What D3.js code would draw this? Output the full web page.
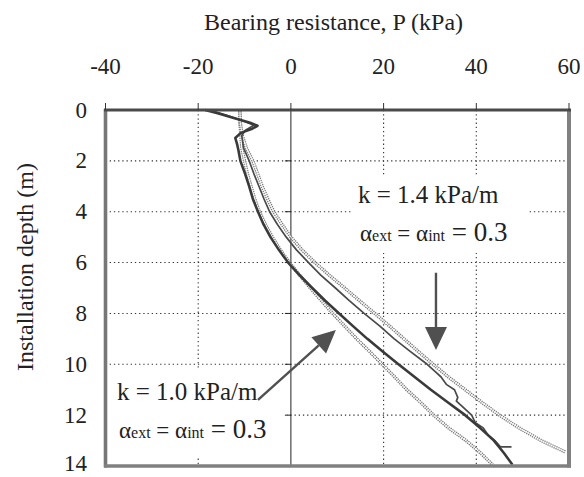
<!DOCTYPE html>
<html><head><meta charset="utf-8">
<script src="https://cdn.jsdelivr.net/npm/d3@7"></script>
<style>body{margin:0;background:#fff}svg{display:block}</style>
</head><body><svg id="c" width="584" height="477" style="font-family:'Liberation Serif'"></svg>
<script>
// ---- data ----
const xTicks = [-40, -20, 0, 20, 40, 60];
const yTicks = [0, 2, 4, 6, 8, 10, 12, 14];
const xTitle = "Bearing resistance, P (kPa)";
const yTitle = "Installation depth (m)";

// measured curve 1 (dark, solid)
const measADepth = [0.0,0.12,0.3,0.5,0.62,0.75,0.9,1.1,1.35,1.6,2.0,2.5,3.0,3.5,4.0,4.5,5.0,5.5,6.0,6.5,7.0,7.5,8.0,8.5,9.0,9.5,10.0,10.5,11.0,11.5,12.0,12.5,13.0,13.5,13.95];
const measAP     = [-18.5,-16,-12.5,-8.8,-7.2,-8.5,-10.8,-12,-11.6,-11.3,-10.9,-9.9,-9.0,-8.2,-7.1,-5.9,-4.4,-2.6,-0.6,1.9,4.6,7.4,10.4,13.4,16.5,19.8,23.2,26.7,30.2,33.9,37.6,40.8,43.8,46.0,47.8];
// measured curve 2 (dark, jagged)
const measBDepth = [0.0,0.2,0.45,0.6,0.8,1.0,1.5,2.0,2.5,3.0,3.5,4.0,4.5,5.0,5.5,6.0,6.5,7.0,7.5,8.0,8.5,9.0,9.5,10.0,10.3,10.5,10.8,11.0,11.3,11.45,11.6,12.0,12.3,12.5,12.8,13.0,13.25,13.25];
const measBP     = [-17.5,-14,-10,-8,-9.8,-10.6,-10.2,-9.0,-8.0,-6.9,-5.8,-4.6,-2.9,-1.0,1.2,3.8,6.5,9.6,12.6,15.8,19.2,22.3,25.8,29.4,31.2,32.4,33.6,35.3,36.0,35.7,36.6,39.0,39.8,41.5,42.6,44.0,45.2,47.6];
// predicted, k = 1.0 kPa/m
const predK10Depth = [0.05,0.5,1.0,1.5,2.0,2.5,3.0,3.5,4.0,4.5,5.0,5.5,6.0,6.5,7.0,7.5,8.0,8.5,9.0,9.5,10.0,10.5,11.0,11.5,12.0,12.5,13.0,13.5,13.95];
const predK10P     = [-11,-11,-10.8,-10.6,-10.0,-9.4,-8.6,-7.8,-6.8,-5.5,-4.0,-2.3,-0.3,1.9,4.2,6.6,9.0,11.6,14.2,17.0,19.7,22.4,25.0,28.0,30.8,34.0,37.8,41.0,43.5];
// predicted, k = 1.4 kPa/m
const predK14Depth = [0.05,0.5,1.0,1.5,2.0,2.5,3.0,3.5,4.0,4.5,5.0,5.5,6.0,6.5,7.0,7.5,8.0,8.5,9.0,9.5,10.0,10.5,11.0,11.5,12.0,12.5,13.0,13.45];
const predK14P     = [-11,-10.9,-10.5,-9.6,-8.2,-7.2,-6.2,-5.0,-3.7,-1.9,0.0,2.4,5.2,8.3,11.6,14.8,18.1,21.3,24.4,27.5,30.7,34.0,37.6,41.2,45.0,49.2,54.0,59.2];

const labelK14 = "k = 1.4 kPa/m";
const labelK10 = "k = 1.0 kPa/m";

// ---- drawing ----
const FF = '"Liberation Serif"';
const svg = d3.select("#c");
const x = d3.scaleLinear().domain([-40, 60]).range([105.5, 569]);
const y = d3.scaleLinear().domain([0, 14]).range([110, 466]);

// width measurement via canvas (keeps SVG text plain, start-anchored)
const ctx = document.createElement("canvas").getContext("2d");
function tw(str, size) { ctx.font = size + 'px "Liberation Serif"'; return ctx.measureText(String(str)).width; }

const g = svg.append("g");
// grid
g.selectAll(".vg").data([-20, 20, 40]).join("line")
  .attr("x1", d => x(d)).attr("x2", d => x(d)).attr("y1", y(0)).attr("y2", y(14))
  .attr("stroke", "#333").attr("stroke-width", 1.1).attr("stroke-dasharray", "1.3,2.9");
g.selectAll(".hg").data([2, 4, 6, 8, 10, 12]).join("line")
  .attr("x1", x(-40)).attr("x2", x(60)).attr("y1", d => y(d)).attr("y2", d => y(d))
  .attr("stroke", "#333").attr("stroke-width", 1.1).attr("stroke-dasharray", "1.3,2.9");

// white label boxes
g.append("rect").attr("x", 352).attr("y", 177).attr("width", 176).attr("height", 76).attr("fill", "#fff");
g.append("rect").attr("x", 109).attr("y", 370).attr("width", 178).attr("height", 86).attr("fill", "#fff");

// zero axis
g.append("line").attr("x1", x(0)).attr("x2", x(0)).attr("y1", y(0)).attr("y2", y(14))
  .attr("stroke", "#222").attr("stroke-width", 1);
g.selectAll(".zt").data([2,4,6,8,10,12]).join("line")
  .attr("x1", x(0) - 6).attr("x2", x(0)).attr("y1", d => y(d)).attr("y2", d => y(d))
  .attr("stroke", "#222").attr("stroke-width", 1);

const line = d3.line().x(d => x(d[0])).y(d => y(d[1])).curve(d3.curveLinear);
function pts(P, D) { return P.map((p, i) => [p, D[i]]); }

// predicted curves: light double-dotted
[[predK10P, predK10Depth], [predK14P, predK14Depth]].forEach(([P, D]) => {
  g.append("path").attr("d", line(pts(P, D))).attr("fill", "none")
    .attr("stroke", "#7a7a7a").attr("stroke-width", 3.4).attr("stroke-dasharray", "1.3,0.9");
  g.append("path").attr("d", line(pts(P, D))).attr("fill", "none")
    .attr("stroke", "#fff").attr("stroke-width", 1.0);
});
// measured curves
g.append("path").attr("d", line(pts(measBP, measBDepth))).attr("fill", "none")
  .attr("stroke", "#4a4a4a").attr("stroke-width", 1.7).attr("stroke-linejoin", "round");
g.append("path").attr("d", line(pts(measAP, measADepth))).attr("fill", "none")
  .attr("stroke", "#3a3a3a").attr("stroke-width", 2.6).attr("stroke-linejoin", "round");

// frame
g.append("line").attr("x1", x(-40)).attr("x2", x(-40)).attr("y1", y(0) - 1).attr("y2", y(14) + 1.5)
  .attr("stroke", "#777").attr("stroke-width", 3.6);
g.append("line").attr("x1", x(60)).attr("x2", x(60)).attr("y1", y(0) - 1).attr("y2", y(14) + 1.5)
  .attr("stroke", "#808080").attr("stroke-width", 4);
g.append("line").attr("x1", x(-40) - 1.5).attr("x2", x(60) + 2).attr("y1", y(14)).attr("y2", y(14))
  .attr("stroke", "#808080").attr("stroke-width", 3.6);
g.append("line").attr("x1", x(-40) - 1.5).attr("x2", x(60) + 2).attr("y1", y(0)).attr("y2", y(0))
  .attr("stroke", "#4a4a4a").attr("stroke-width", 3);
// top ticks
g.selectAll(".tt").data(xTicks).join("line")
  .attr("x1", d => x(d)).attr("x2", d => x(d)).attr("y1", y(0) - 7).attr("y2", y(0))
  .attr("stroke", "#333").attr("stroke-width", 1);

// plain text helper (no text-anchor / textLength)
function txt(str, xx, yy, size) {
  return svg.append("text").attr("x", xx).attr("y", yy).attr("font-size", size)
    .style("font-family", FF).attr("fill", "#222").text(str);
}

// tick labels
xTicks.forEach(d => txt(d, x(d) - tw(d, 23) / 2, 74, 23));
yTicks.forEach(d => txt(d, 87 - tw(d, 23), Math.min(y(d) + 7.5, 471), 23));

// titles
txt(xTitle, 334 - tw(xTitle, 24) / 2, 30, 24);
svg.append("text").attr("transform", "translate(33,267) rotate(-90)")
  .attr("x", -tw(yTitle, 24) / 2).attr("y", 0).attr("font-size", 24)
  .style("font-family", FF).attr("fill", "#222").text(yTitle);

// annotations
function alphaLine(xx, yy) {
  const t = svg.append("text").attr("x", xx).attr("y", yy).attr("font-size", 23).style("font-family", FF).attr("fill", "#222");
  t.append("tspan").text("α");
  t.append("tspan").attr("font-size", 16).text("ext");
  t.append("tspan").text(" = α");
  t.append("tspan").attr("font-size", 16).text("int");
  t.append("tspan").attr("font-size", 27).text(" = 0.3");
}
txt(labelK14, 358, 203, 25);
alphaLine(360, 241);
txt(labelK10, 117, 400, 25);
alphaLine(119, 438);

// arrows
function arrow(p0, d0, p1, d1) {
  const x0 = x(p0), y0 = y(d0), x1 = x(p1), y1 = y(d1);
  const ang = Math.atan2(y1 - y0, x1 - x0), L = 23, W = 11;
  const bx = x1 - L * Math.cos(ang), by = y1 - L * Math.sin(ang);
  svg.append("line").attr("x1", x0).attr("y1", y0).attr("x2", bx).attr("y2", by)
    .attr("stroke", "#505050").attr("stroke-width", 2.4);
  const px = -Math.sin(ang) * W, py = Math.cos(ang) * W;
  svg.append("path").attr("d", `M${x1},${y1}L${bx + px},${by + py}L${bx - px},${by - py}Z`).attr("fill", "#505050");
}
arrow(-7.1, 11.4, 9.7, 8.65);
arrow(31.3, 6.4, 31.3, 9.44);
</script></body></html>
